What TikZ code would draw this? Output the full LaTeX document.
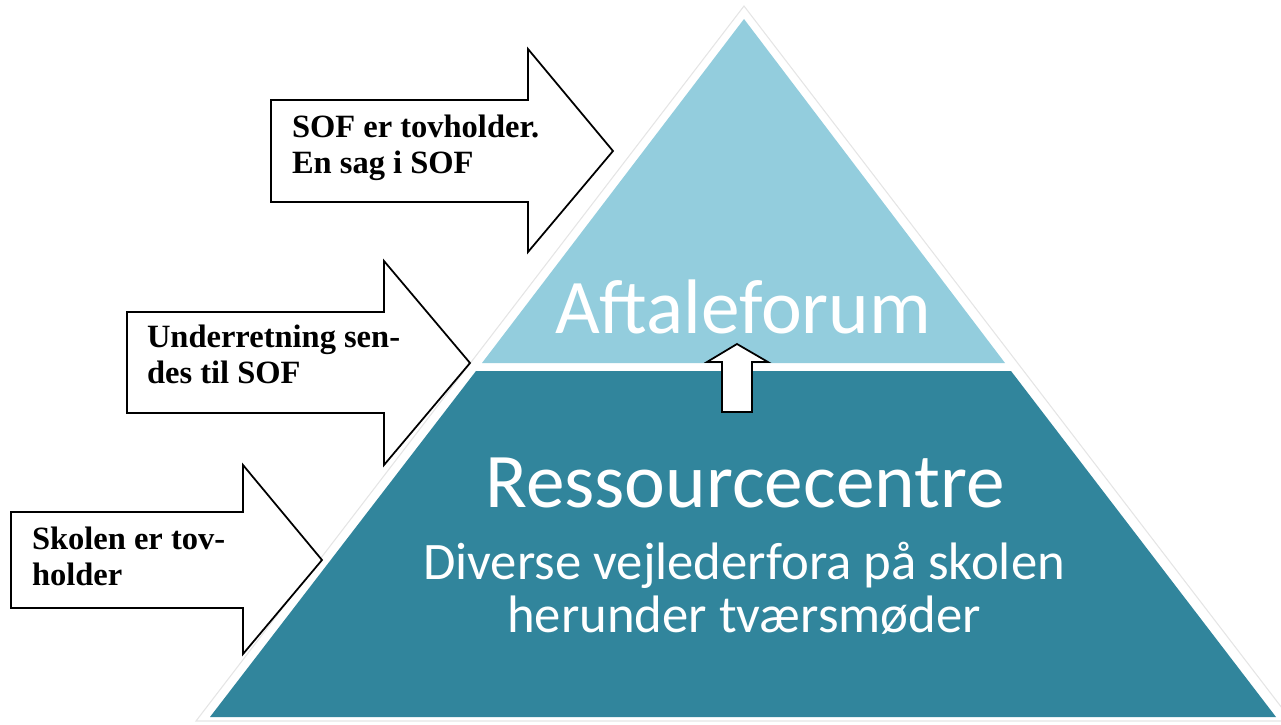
\documentclass[tikz,border=0pt]{standalone}
\usepackage{fontspec}
\setmainfont{Liberation Serif}
\newfontfamily\calibrifont{Carlito}
\definecolor{lysblaa}{HTML}{93CDDD}
\definecolor{moerkblaa}{HTML}{31859C}

\begin{document}
\begin{tikzpicture}[x=0.02cm, y=-0.02cm, line join=miter,
	every node/.style={inner sep=0pt, outer sep=0pt},
	pil/.style={draw=black, fill=white, line width=1pt},
	piltekst/.style={anchor=north west, align=left, font=\fontsize{18.5}{20.5}\selectfont\bfseries},
	pyrtekst/.style={text=white, anchor=base}]
	
	\useasboundingbox (0,0) rectangle (1281,724);
	\clip (0,0) rectangle (1281,724);
	
	% Pyramide med hvid kant
	\draw[fill=white, draw=black!10, line width=0.6pt] (744,6) -- (1292,721) -- (196,721) -- cycle;
	\fill[lysblaa] (744,19) -- (1005,363) -- (482,363) -- cycle;
	\fill[moerkblaa] (476,371) -- (1011,371) -- (1276,717) -- (210,717) -- cycle;
	
	% Tekst i pyramiden
	\node[pyrtekst, font=\calibrifont\fontsize{44}{44}\selectfont] (aftale) at (743,333) {Aftaleforum};
	\node[pyrtekst, font=\calibrifont\fontsize{44}{44}\selectfont] (ressource) at (745,507) {Ressourcecentre};
	\node[pyrtekst, font=\calibrifont\fontsize{30}{30}\selectfont] (diverse) at (744,579) {Diverse vejlederfora på skolen};
	\node[pyrtekst, font=\calibrifont\fontsize{30}{30}\selectfont] (herunder) at (744,632) {herunder tværsmøder};
	
	% Pil op fra ressourcecentre til aftaleforum
	\draw[pil] (737,344) -- (768,362) -- (752,362) -- (752,412) -- (722,412) -- (722,362) -- (707,362) -- cycle;
	
	% Pil 1
	\draw[pil] (271,100) -- (528,100) -- (528,49) -- (613,151) -- (528,252) -- (528,202) -- (271,202) -- cycle;
	\node[piltekst] (sof) at (292,115) {SOF er tovholder.\\En sag i SOF};
	
	% Pil 2
	\draw[pil] (127,312) -- (384,312) -- (384,261) -- (470,363) -- (384,465) -- (384,413) -- (127,413) -- cycle;
	\node[piltekst] (underretning) at (147,325) {Underretning sen-\\des til SOF};
	
	% Pil 3
	\draw[pil] (11,512) -- (243,512) -- (243,465) -- (322,560) -- (243,654) -- (243,608) -- (11,608) -- cycle;
	\node[piltekst] (skolen) at (32,527) {Skolen er tov-\\holder};
	
\end{tikzpicture}
\end{document}
